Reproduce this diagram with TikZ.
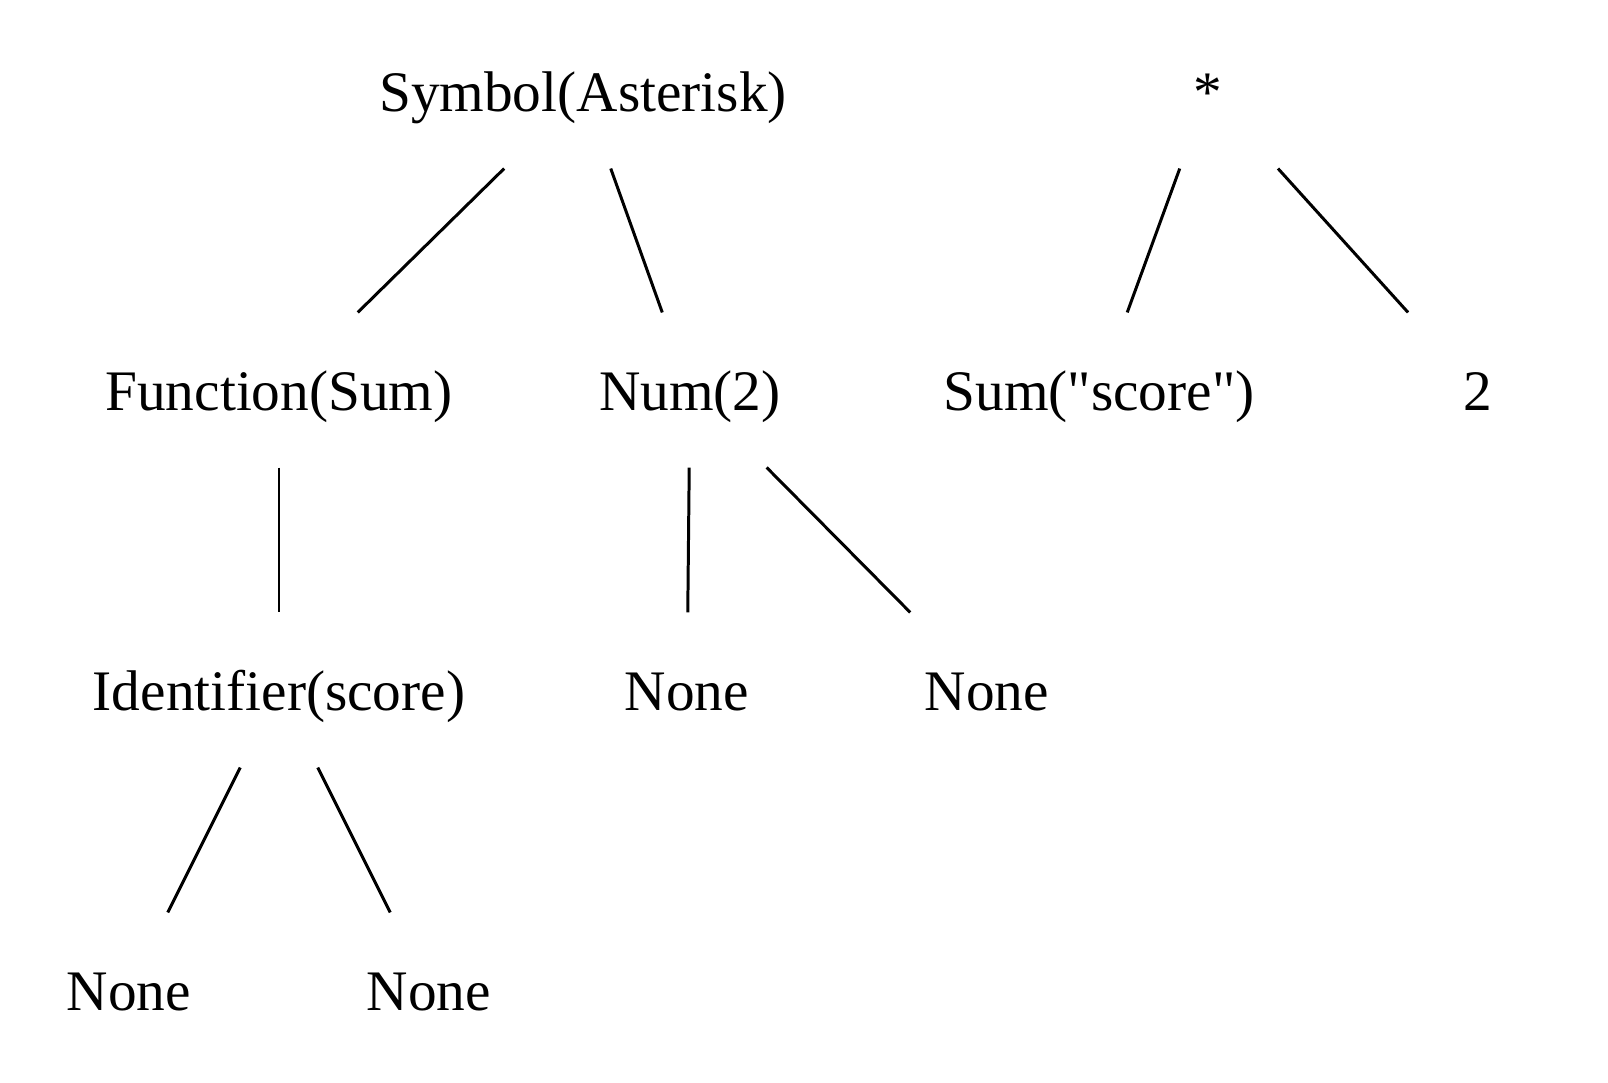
\documentclass[tikz,border=0pt]{standalone}
\usepackage{fontspec}
\newfontfamily\treefont{Liberation Serif}
\begin{document}
\begin{tikzpicture}[x=0.01cm,y=-0.01cm,line width=0.85pt,
  lbl/.style={inner sep=0pt,minimum width=2cm,minimum height=1.52cm,
    text height=0.517cm,text depth=0.115cm,font=\treefont\fontsize{16.3pt}{19pt}\selectfont}]
\useasboundingbox (0,0) rectangle (1608,1083);
% left tree
\node[lbl] (sym)at(583,91){Symbol(Asterisk)};
\node[lbl] (fun)at(279,390){Function(Sum)};
\node[lbl] (num)at(690,390){Num(2)};
\node[lbl] (ident)at(279,690){Identifier(score)};
\node[lbl] (n1)at(687,690){None};
\node[lbl] (n2)at(987,690){None};
\node[lbl] (n3)at(129,990){None};
\node[lbl] (n4)at(429,990){None};
\draw (sym) -- (fun);
\draw (sym) -- (num);
\draw (fun) -- (ident);
\draw (num) -- (n1);
\draw (num) -- (n2);
\draw (ident) -- (n3);
\draw (ident) -- (n4);
% right tree
\node[lbl] (ast)at(1208,91){*};
\node[lbl] (sum)at(1099,390){Sum("score")};
\node[lbl] (two)at(1478,390){2};
\draw (ast) -- (sum);
\draw (ast) -- (two);
\end{tikzpicture}
\end{document}
